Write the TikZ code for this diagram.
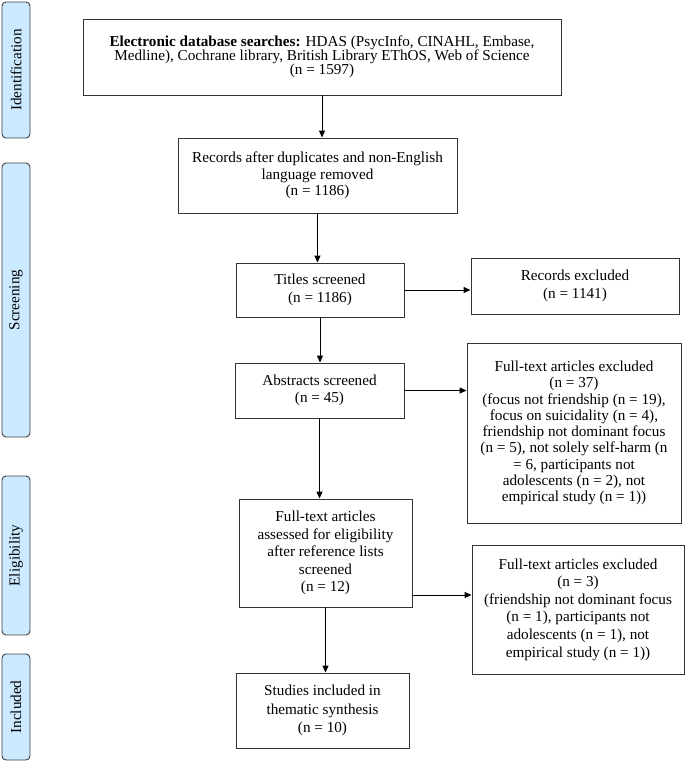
\documentclass[tikz,border=0pt]{standalone}
\usepackage{fontspec}
\setmainfont{Liberation Serif}
\usetikzlibrary{arrows.meta}
\definecolor{phaseblue}{RGB}{204,234,255}

\begin{document}
\begin{tikzpicture}[x = 1bp, y = -1bp]
\tikzstyle{BoxStyle} = [draw = black!80, line width = 0.9bp, align = center, inner sep = 2bp, font = \fontsize{15.2bp}{17.6bp}\selectfont]
\tikzstyle{PhaseStyle} = [draw = black!75, line width = 0.9bp, rounded corners = 4bp, fill = phaseblue, rotate = 90, minimum height = 28bp, inner sep = 0pt, font = \fontsize{15.2bp}{17.6bp}\selectfont]
\tikzstyle{ArrowStyle} = [-{Triangle[length = 7bp, width = 6bp]}, line width = 1bp]
\useasboundingbox (0,0) rectangle (685,766);
% phases
\node[style = PhaseStyle, minimum width = 136bp] (ident) at (16,70) {Identification};
\node[style = PhaseStyle, minimum width = 274bp] (screen) at (16,300) {Screening};
\node[style = PhaseStyle, minimum width = 159bp] (elig) at (16,555.5) {Eligibility};
\node[style = PhaseStyle, minimum width = 106bp] (incl) at (16,707) {Included};
% boxes
\node[style = BoxStyle, minimum width = 478bp, minimum height = 76bp, font = \fontsize{15.2bp}{14.2bp}\selectfont] (search) at (322,57)
  {\textbf{Electronic database searches:} HDAS (PsycInfo, CINAHL, Embase,\\ Medline), Cochrane library, British Library EThOS, Web of Science\\ (n = 1597)};
\node[style = BoxStyle, minimum width = 279bp, minimum height = 75bp, font = \fontsize{15.2bp}{16.7bp}\selectfont] (dedup) at (317.5,175.5)
  {Records after duplicates and non-English\\ language removed\\ (n = 1186)};
\node[style = BoxStyle, minimum width = 168bp, minimum height = 54bp] (titles) at (320,290)
  {Titles screened\\ (n = 1186)};
\node[style = BoxStyle, minimum width = 208bp, minimum height = 56bp] (recexcl) at (575,286)
  {Records excluded\\ (n = 1141)};
\node[style = BoxStyle, minimum width = 169bp, minimum height = 55bp] (abstr) at (319.5,390.5)
  {Abstracts screened\\ (n = 45)};
\node[style = BoxStyle, minimum width = 214bp, minimum height = 180bp, font = \fontsize{15.2bp}{16.3bp}\selectfont] (ftexcl1) at (574,433)
  {Full-text articles excluded\\ (n = 37)\\ (focus not friendship (n = 19),\\ focus on suicidality (n = 4),\\ friendship not dominant focus\\ (n = 5), not solely self-harm (n\\ = 6, participants not\\ adolescents (n = 2), not\\ empirical study (n = 1))};
\node[style = BoxStyle, minimum width = 173bp, minimum height = 108bp] (ftassess) at (325.5,553)
  {Full-text articles\\ assessed for eligibility\\ after reference lists\\ screened\\ (n = 12)};
\node[style = BoxStyle, minimum width = 212bp, minimum height = 129bp] (ftexcl2) at (578,609.5)
  {Full-text articles excluded\\ (n = 3)\\ (friendship not dominant focus\\ (n = 1), participants not\\ adolescents (n = 1), not\\ empirical study (n = 1))};
\node[style = BoxStyle, minimum width = 173bp, minimum height = 75bp, font = \fontsize{15.2bp}{18.3bp}\selectfont] (studies) at (322.5,710.5)
  {Studies included in\\ thematic synthesis\\ (n = 10)};
% arrows
\draw[style = ArrowStyle] (search.south) -- (search.south |- dedup.north);
\draw[style = ArrowStyle] (dedup.south) -- (dedup.south |- titles.north);
\draw[style = ArrowStyle] (titles.east) -- (titles.east -| recexcl.west);
\draw[style = ArrowStyle] (titles.south) -- (titles.south |- abstr.north);
\draw[style = ArrowStyle] (abstr.east) -- (abstr.east -| ftexcl1.west);
\draw[style = ArrowStyle] (abstr.south) -- (abstr.south |- ftassess.north);
\draw[style = ArrowStyle] ([yshift = -42bp]ftassess.east) -- ([yshift = -42bp]ftassess.east -| ftexcl2.west);
\draw[style = ArrowStyle] (ftassess.south) -- (ftassess.south |- studies.north);
\end{tikzpicture}
\end{document}
